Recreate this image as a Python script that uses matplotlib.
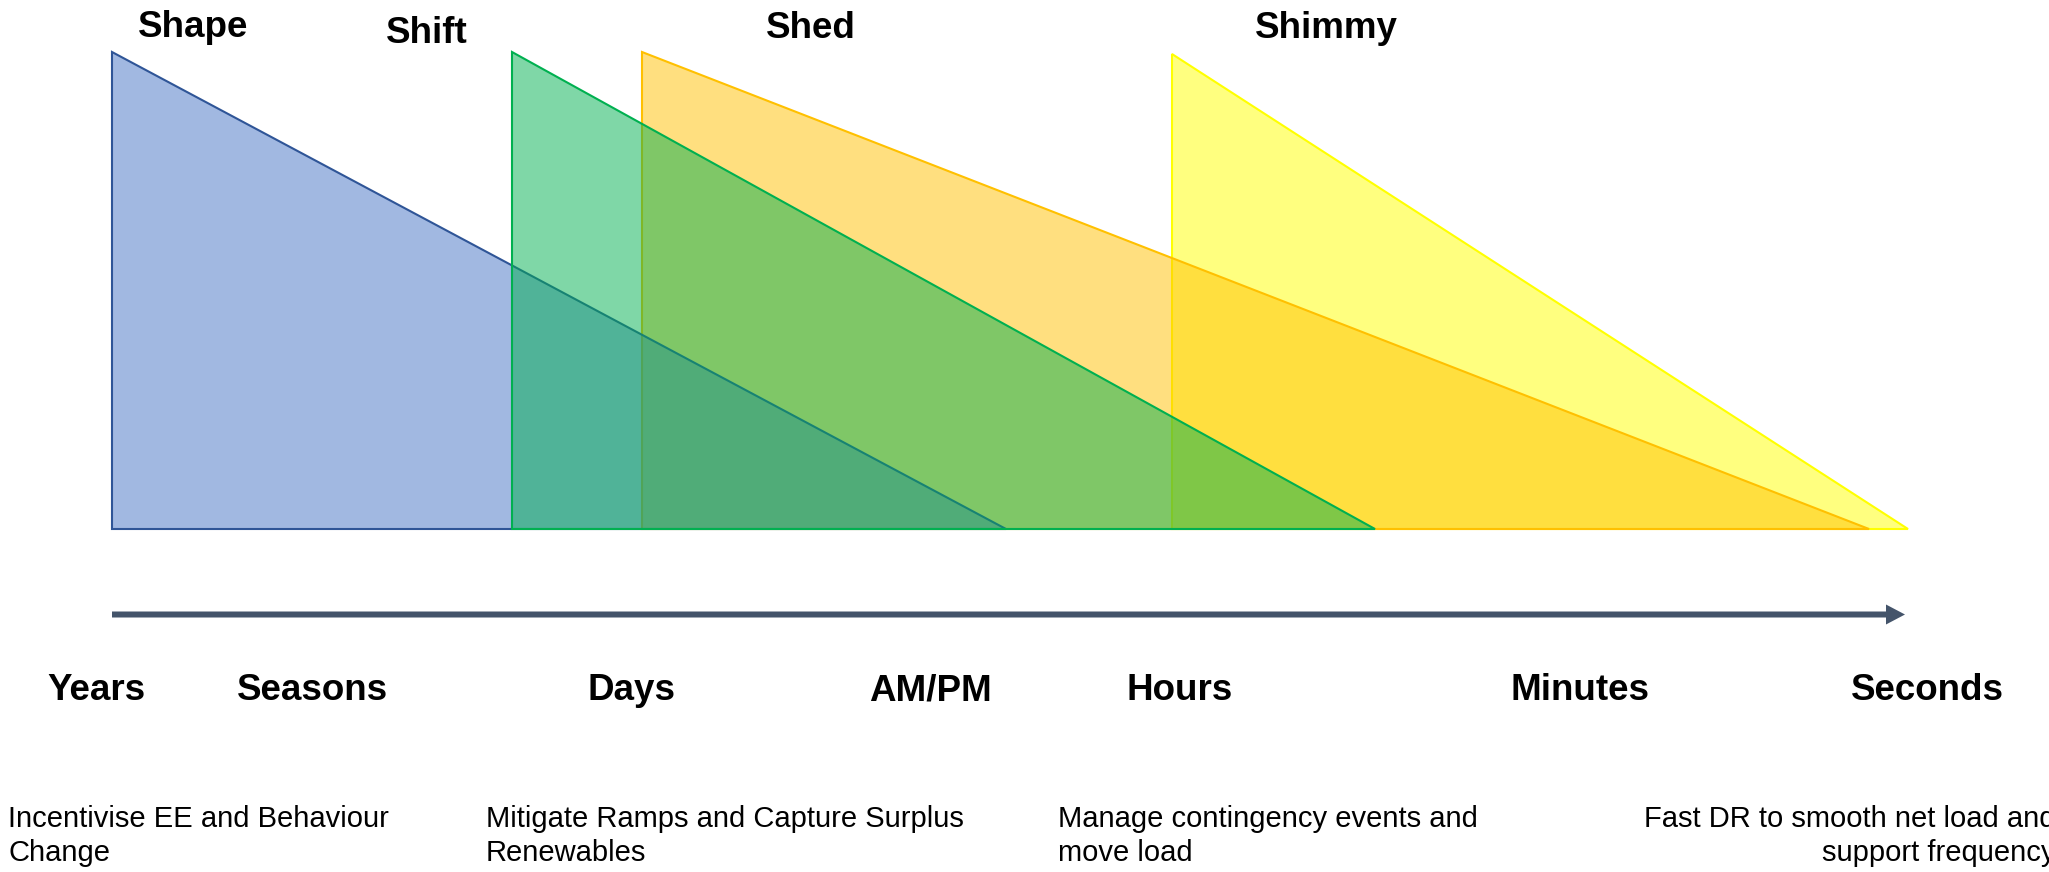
import matplotlib
matplotlib.use("Agg")
import matplotlib.pyplot as plt

plt.rcParams['font.family'] = ['Liberation Sans', 'DejaVu Sans']

# ---- data (figure-pixel coordinate space, y grows downward) ----
phases = ['Shape', 'Shift', 'Shed', 'Shimmy']
phase_start = [112, 512, 642, 1172]
phase_end = [1006, 1375, 1869, 1908]
phase_peak = [52, 52, 52, 54]
baseline_y = 529
phase_face = ['#4472C4', '#00B050', '#FFC000', '#FFFF00']
phase_edge = ['#2F5597', '#00B050', '#FFC000', '#FFFF00']
phase_layer = [3, 4, 2, 1]          # stacking order of the shapes
phase_label_x = [193, 427, 811, 1326]
phase_label_y = [37, 43, 38, 38]

timescales = ['Years', 'Seasons', 'Days', 'AM/PM', 'Hours', 'Minutes', 'Seconds']
timescale_x = [96, 313, 632, 930, 1180, 1580, 1927]
timescale_y = 700

descriptions = ['Incentivise EE and Behaviour\nChange',
                'Mitigate Ramps and Capture Surplus\nRenewables',
                'Manage contingency events and\nmove load',
                'Fast DR to smooth net load and\nsupport frequency']
description_x = [8, 486, 1058, 2056]
description_ha = ['left', 'left', 'left', 'right']
description_y = 861   # baseline of last line

arrow_x0, arrow_x1, arrow_y = 112, 1905, 614.5

# ---- figure ----
W, H = 2049, 872
fig = plt.figure(figsize=(W / 100, H / 100), dpi=100)
ax = fig.add_axes([0, 0, 1, 1])
ax.set_xlim(0, W)
ax.set_ylim(H, 0)
ax.axis('off')

for i, name in enumerate(phases):
    xs = [phase_start[i], phase_start[i], phase_end[i]]
    ys = [baseline_y, phase_peak[i], baseline_y]
    z = 2 + 2 * phase_layer[i]
    ax.fill(xs, ys, facecolor=phase_face[i], alpha=0.5, edgecolor='none', zorder=z)
    ax.fill(xs, ys, facecolor='none', edgecolor=phase_edge[i], lw=1.5,
            joinstyle='miter', zorder=z + 1)
    ax.text(phase_label_x[i], phase_label_y[i], name, ha='center', va='baseline',
            fontsize=26.5, fontweight='bold', color='black', zorder=20)

ax.arrow(arrow_x0, arrow_y, arrow_x1 - arrow_x0, 0, width=6, head_width=20,
         head_length=19, length_includes_head=True, color='#44546A', lw=0, zorder=15)

for name, x in zip(timescales, timescale_x):
    ax.text(x, timescale_y, name, ha='center', va='baseline', fontsize=26.5,
            fontweight='bold', color='black')

for txt, x, ha in zip(descriptions, description_x, description_ha):
    ax.text(x, description_y, txt, ha=ha, va='baseline', multialignment=ha,
            fontsize=21, linespacing=1.28, color='black')

fig.savefig('out.png', dpi=100)
